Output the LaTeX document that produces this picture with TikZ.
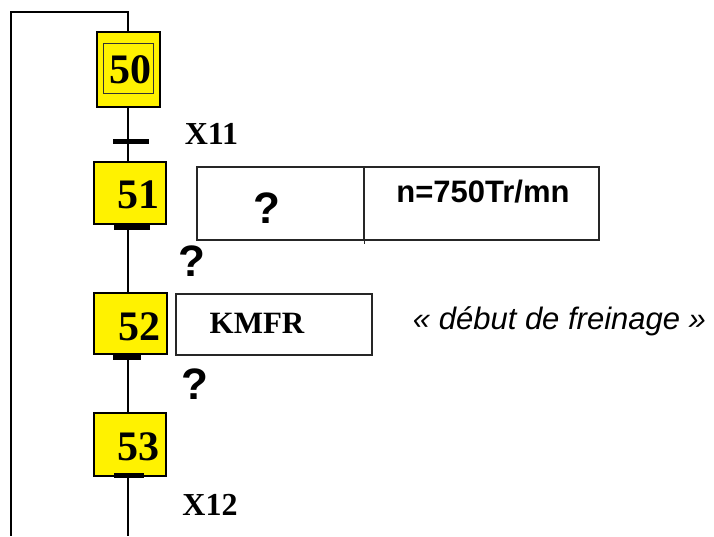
\documentclass[tikz,border=0pt]{standalone}
\usepackage{fontspec}
\setmainfont{Liberation Serif}
\setsansfont{Liberation Sans}
\begin{document}
\begin{tikzpicture}[x=1pt,y=-1pt,
  stepbox/.style={draw=black,line width=1.8pt,fill=yellow,inner sep=0pt,
    minimum width=#1},
  stepbox/.default=72pt,
  stepnum/.style={font=\fontsize{42}{42}\selectfont\bfseries,inner sep=0pt,anchor=base},
  actbox/.style={draw=black!85,line width=1.2pt,fill=white,inner sep=0pt},
  bar/.style={fill=black,inner sep=0pt,minimum height=5pt},
  link/.style={line width=1.3pt,black},
  cond/.style={font=\fontsize{32}{32}\selectfont\bfseries,inner sep=0pt,anchor=base},
  qmark/.style={font=\fontsize{44}{44}\selectfont\sffamily\bfseries,inner sep=0pt,anchor=base},
  acttext/.style={font=\fontsize{31}{31}\selectfont,inner sep=0pt,anchor=base}]
\useasboundingbox (0,0) rectangle (714,536);

% spine of the chart and the return loop
\coordinate (top) at (128,12);
\coordinate (corner) at (11,12);
\coordinate (cornerlow) at (11,536);
\coordinate (bottom) at (128,536);

% steps
\node[stepbox=63pt,minimum height=75pt] (s50) at (128.5,69.5) {};
\node[draw=black!80,line width=1pt,inner sep=0pt,minimum width=50pt,minimum height=50pt] (s50i) at (128,68) {};
\node[stepbox,minimum height=62pt] (s51) at (130,193) {};
\node[stepbox=73pt,minimum height=61pt] (s52) at (130.5,323.5) {};
\node[stepbox,minimum height=63pt] (s53) at (130,444.5) {};

\node[stepnum] (n50) at (130,83) {50};
\node[stepnum] (n51) at (138,208) {51};
\node[stepnum] (n52) at (139.5,340) {52};
\node[stepnum] (n53) at (138,460) {53};

% connectors along the spine
\draw[link] (s50.north -| top) -- (top) -- (corner) -- (cornerlow);
\draw[link] (s50.south -| top) -- (s51.north -| top);
\draw[link] (s51.south -| top) -- (s52.north -| top);
\draw[link] (s52.south -| top) -- (s53.north -| top);
\draw[link] (s53.south -| top) -- (bottom);

% transitions
\node[bar,minimum width=36pt] (t11) at (131,141.5) {};
\node[bar,minimum width=36pt] (t51) at (132,227.5) {};
\node[bar,minimum width=28pt] (t52) at (127,357.5) {};
\node[bar,minimum width=30pt] (t53) at (129,475.5) {};

\node[cond] (c11) at (211.5,144) {X11};
\node[qmark] (q51) at (191.5,276) {?};
\node[qmark] (q52) at (194.5,399) {?};
\node[cond] (c12) at (210,515) {X12};

% actions of step 51
\node[actbox,minimum width=167pt,minimum height=73pt] (a51a) at (280.5,203.5) {};
\node[actbox,minimum width=235pt,minimum height=73pt] (a51b) at (481.5,203.5) {};
\draw[line width=1.2pt,black!85] (a51a.north east) -- ([yshift=-3pt]a51a.south east);
\node[qmark] (qa51) at (266.5,223) {?};
\node[acttext,font=\fontsize{31}{31}\selectfont\sffamily\bfseries] (v51) at (483,202) {n=750Tr/mn};

% action of step 52
\node[actbox,minimum width=196pt,minimum height=61pt] (a52) at (274,324.5) {};
\node[acttext,font=\fontsize{31}{31}\selectfont\bfseries] (k52) at (257,333) {KMFR};
\node[acttext,font=\fontsize{31}{31}\selectfont\sffamily\itshape] (d52) at (559.5,329) {« début de freinage »};
\end{tikzpicture}
\end{document}
